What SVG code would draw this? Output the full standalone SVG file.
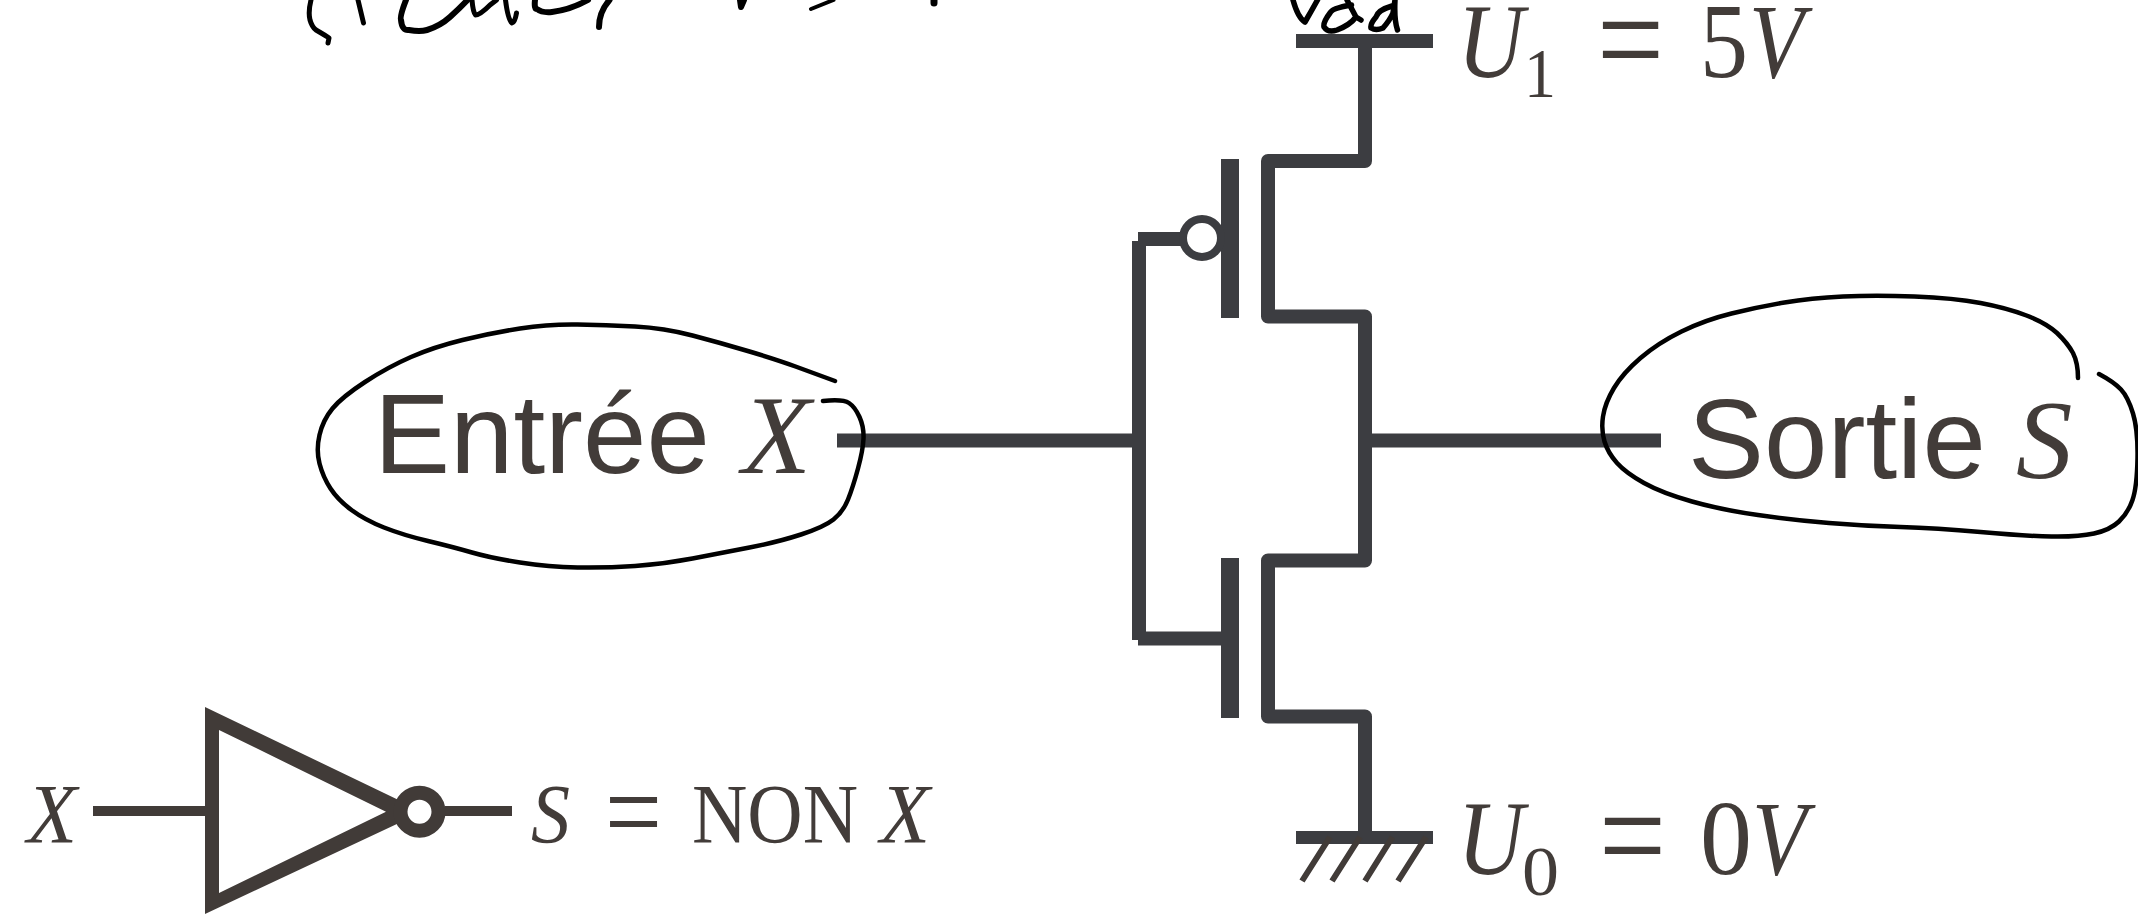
<svg xmlns="http://www.w3.org/2000/svg" width="2138" height="914" viewBox="0 0 2138 914">
<style>
.w{fill:none;stroke:#3c3d41;stroke-width:14;stroke-linejoin:round}
.k{fill:none;stroke:#413b38}
.h{fill:none;stroke:#000;stroke-linecap:round;stroke-linejoin:round}
text{fill:#423c39}
.s{font-family:"Liberation Sans",Arial,sans-serif;font-size:114px}
.m{font-family:"Liberation Serif","Times New Roman",serif}
.i{font-style:italic}
</style>
<rect width="2138" height="914" fill="#fff"/>
<g id="handwriting-top" class="h">
<path stroke-width="5" d="M311 0Q308 12 310 20Q312 27 316 30Q328 37 329 38L328 43"/>
<path stroke-width="5" d="M358 0L363.5 23"/>
<path stroke-width="6" d="M406 0Q399 18 401 20Q402 31 409 30Q420 32 427 30Q440 26 450 17Q460 8 467.5 0"/>
<path stroke-width="5" d="M472 0Q473 12 475.5 15Q480 15 490 5L496.5 0M505.5 0Q508 20 512 23Q515 22 516.5 13"/>
<path stroke-width="6" d="M535 0Q534 9 537 9Q542 13 552 12Q570 10 588 0"/>
<path stroke-width="6" d="M609.5 0Q599 12 599 27"/>
<path stroke-width="6" d="M740 0L741 7L744 0"/>
<path stroke-width="4" d="M833.5 0L811 9"/>
<path stroke-width="7" d="M934 0V3"/>
</g>
<g id="handwriting-vdd" class="h" stroke-width="5.5">
<path d="M1293 0Q1298 18 1305 22Q1312 10 1317.5 0"/>
<path d="M1351.5 5Q1332 8 1330 13Q1323 22 1324 27Q1328 33 1337 30Q1350 25 1356 17L1361 20M1347 0L1356 17"/>
<path d="M1392 6Q1378 10 1376 17Q1370 24 1371 28Q1376 31 1383 28Q1390 20 1393 13L1395 0Q1394 20 1397.5 30"/>
</g>
<g id="connectors">
<path class="w" d="M837 440.5H1132M1371 440.5H1661"/>
<path class="w" d="M1139 640V241M1138 239H1182M1138 638.5H1222"/>
<path class="w" d="M1365 48V161H1268V316.5H1365V560.5H1268V716.5H1365V832"/>
</g>
<g id="pmos">
<rect x="1221" y="159" width="18" height="159" fill="#3c3d41"/>
<circle cx="1202" cy="238" r="19" fill="#fff" stroke="#3c3d41" stroke-width="8"/>
</g>
<g id="nmos">
<rect x="1221" y="558" width="18" height="160" fill="#3c3d41"/>
</g>
<g id="vdd-rail">
<rect x="1296" y="34" width="137" height="14" fill="#3c3d41"/>
<text class="m i" x="1457.500" y="77" font-size="105" textLength="66.500" lengthAdjust="spacingAndGlyphs">U</text>
<text class="m" x="1524" y="97" font-size="70" textLength="32" lengthAdjust="spacingAndGlyphs">1</text>
<text class="m" x="1597" y="88" font-size="147" textLength="67" lengthAdjust="spacingAndGlyphs">=</text>
<text class="m" x="1700" y="77" font-size="105" textLength="48" lengthAdjust="spacingAndGlyphs">5</text>
<text class="m i" x="1749" y="77" font-size="105" textLength="55" lengthAdjust="spacingAndGlyphs">V</text>
</g>
<g id="ground-rail">
<rect x="1296" y="831" width="137" height="13" fill="#3c3d41"/>
<path class="k" d="M1330 837L1302 881M1360 837L1332 881M1392.500 837L1365 881M1426 837L1398 881" style="stroke-width:6"/>
<text class="m i" x="1457.500" y="874" font-size="105" textLength="66.500" lengthAdjust="spacingAndGlyphs">U</text>
<text class="m" x="1522" y="895" font-size="70" textLength="37" lengthAdjust="spacingAndGlyphs">0</text>
<text class="m" x="1599" y="884" font-size="147" textLength="67" lengthAdjust="spacingAndGlyphs">=</text>
<text class="m" x="1700" y="874" font-size="105" textLength="52" lengthAdjust="spacingAndGlyphs">0</text>
<text class="m i" x="1752" y="874" font-size="105" textLength="55" lengthAdjust="spacingAndGlyphs">V</text>
</g>
<g id="input">
<text class="s" x="374" y="473">Entrée</text>
<text class="m i" x="742" y="473" font-size="113">X</text>
<path class="h" stroke-width="4.5" d="M835 381Q813 373 795.5 366.5Q778 360 749.5 351.5Q721 343 692.5 335.5Q664 328 635 326.5Q606 325 577.5 324.5Q549 324 520 328.5Q491 333 462.5 340Q434 347 411 357Q388 367 365 382Q342 397 332.5 408.5Q323 420 319.5 435Q316 450 319.5 463.5Q323 477 330.5 488.5Q338 500 351.5 510Q365 520 384 527.5Q403 535 428 541Q453 547 472 552.5Q491 558 520 562.5Q549 567 577.5 567.5Q606 568 635 566Q664 564 692.5 558.5Q721 553 749.5 547.5Q778 542 801 534.5Q824 527 833.5 519.5Q843 512 848 499.5Q853 487 858 468.5Q863 450 863.5 438.5Q864 427 859.5 417Q855 407 849 403Q843 399 823 401"/>
</g>
<g id="output">
<text class="s" x="1688" y="478">Sortie</text>
<text class="m i" x="2016" y="478" font-size="113">S</text>
<path class="h" stroke-width="4.5" d="M2078 378Q2078 363 2073 353Q2067.5 343 2057 333Q2046 323 2026.5 315.5Q2007 308 1980.5 303Q1954 298 1914.5 296.5Q1875 295 1843 296.5Q1811 298 1784.5 302.5Q1758 307 1731.5 313.5Q1705 320 1681.5 331.5Q1658 343 1640.5 358Q1623 373 1614 388Q1605 403 1603 416.5Q1601 430 1604.5 441.5Q1608 453 1617 463Q1626 473 1644 483Q1662 493 1692 501.5Q1722 510 1758 515Q1793.5 520 1829 523Q1865 526 1900.5 527Q1936 528 1980.5 532Q2025 536 2051.5 536.5Q2078 537 2094 533.5Q2110 530 2119 521.5Q2128 513 2132.5 500Q2137 487 2137.5 458Q2138 430 2133 413.5Q2128 397 2121 389.5Q2114 382 2099 374"/>
</g>
<g id="inverter">
<text class="m i" x="27" y="843" font-size="85" textLength="50" lengthAdjust="spacingAndGlyphs">X</text>
<path class="k" d="M93 811H205M445 811H512" style="stroke-width:10"/>
<path fill="#413b38" fill-rule="evenodd" d="M205 707L423 811.7L205 914ZM219 730V893L386 811.7Z"/>
<circle cx="419.5" cy="811.7" r="19" fill="#fff" stroke="#413b38" stroke-width="14"/>
<text class="m i" x="531" y="843" font-size="85" textLength="39" lengthAdjust="spacingAndGlyphs">S</text>
<text class="m" x="605" y="852" font-size="120" textLength="57" lengthAdjust="spacingAndGlyphs">=</text>
<text class="m" x="692" y="843" font-size="85" textLength="166" lengthAdjust="spacingAndGlyphs">NON</text>
<text class="m i" x="880" y="843" font-size="85" textLength="50" lengthAdjust="spacingAndGlyphs">X</text>
</g>
</svg>
